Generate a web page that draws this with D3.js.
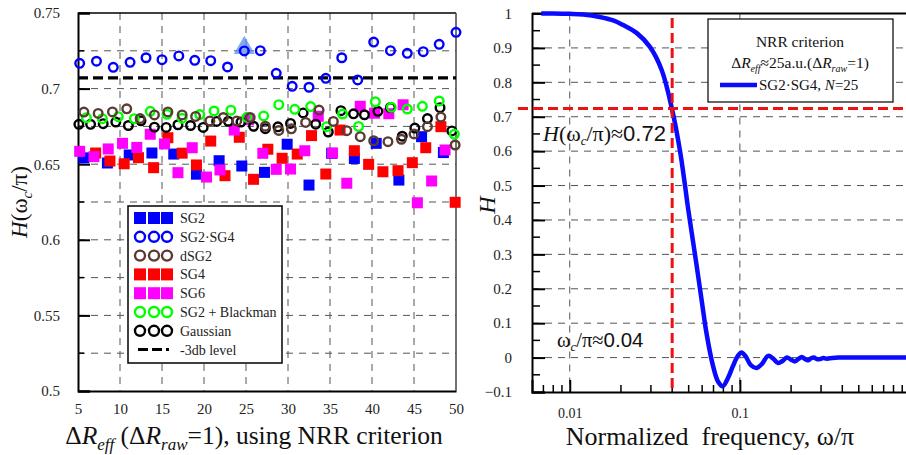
<!DOCTYPE html>
<html><head><meta charset="utf-8">
<script src="https://cdn.jsdelivr.net/npm/d3@7"></script>
<style>body{margin:0;background:#fff}svg{display:block}</style>
</head><body>
<svg id="c" width="906" height="455"></svg>
<script>
// ---------- DATA (left panel) ----------
const sg2X = [5.7, 8.5, 11.1, 13.8, 16.4, 19.1, 21.8, 24.5, 27.2, 29.9, 32.5, 35.2, 37.9, 40.5, 43.2, 45.9, 48.5];
const sg2Y = [0.6542, 0.6508, 0.6561, 0.6574, 0.6567, 0.6434, 0.6523, 0.6488, 0.6446, 0.6632, 0.6362, 0.6572, 0.6538, 0.6638, 0.6395, 0.6682, 0.6577];
const sg2sg4X = [5.2, 7.2, 9.2, 11.2, 13.1, 15.0, 17.0, 18.9, 20.8, 22.8, 24.8, 26.7, 28.6, 30.5, 32.5, 34.5, 36.4, 38.3, 40.2, 42.2, 44.2, 46.1, 48.0, 50.0];
const sg2sg4Y = [0.7167, 0.7181, 0.7141, 0.7174, 0.7204, 0.7191, 0.7216, 0.7187, 0.7185, 0.7143, 0.7249, 0.7251, 0.7101, 0.7015, 0.7009, 0.7068, 0.7204, 0.7057, 0.7308, 0.7251, 0.7233, 0.7244, 0.7293, 0.7372];
const dsg2X = [5.7, 7.4, 9.1, 10.8, 12.4, 14.1, 15.7, 17.4, 19.0, 20.7, 22.3, 23.9, 25.5, 27.3, 28.9, 30.4, 32.1, 33.7, 35.4, 37.0, 38.6, 40.2, 41.9, 43.5, 45.0, 46.6, 48.2, 49.9];
const dsg2Y = [0.6845, 0.6836, 0.6846, 0.6866, 0.6802, 0.6826, 0.6846, 0.6826, 0.6816, 0.6786, 0.6809, 0.6786, 0.6809, 0.6751, 0.6723, 0.6734, 0.6776, 0.6858, 0.6783, 0.6722, 0.6682, 0.6655, 0.6649, 0.6665, 0.6700, 0.6748, 0.6812, 0.6627];
const sg4X = [7.1, 8.8, 10.5, 12.2, 14.0, 15.7, 17.4, 19.1, 20.8, 22.5, 24.2, 25.9, 27.6, 29.3, 31.1, 32.8, 34.5, 36.2, 37.9, 39.6, 41.3, 43.1, 44.8, 46.4, 48.2, 49.9];
const sg4Y = [0.6574, 0.6521, 0.6503, 0.6543, 0.6477, 0.6675, 0.6573, 0.6495, 0.6653, 0.6424, 0.6678, 0.6400, 0.6599, 0.6539, 0.6567, 0.6689, 0.6435, 0.6726, 0.6589, 0.6499, 0.6450, 0.6457, 0.6510, 0.6609, 0.6748, 0.6248];
const sg6X = [5.2, 6.9, 8.6, 10.3, 12.0, 13.6, 15.3, 16.9, 18.6, 20.3, 21.9, 23.6, 25.3, 27.0, 28.6, 30.3, 32.0, 33.6, 35.3, 37.0, 38.6, 40.3, 42.0, 43.7, 45.4, 47.1, 48.7];
const sg6Y = [0.6585, 0.6550, 0.6601, 0.6638, 0.6611, 0.6698, 0.6634, 0.6444, 0.6609, 0.6415, 0.6462, 0.6726, 0.6794, 0.6572, 0.6466, 0.6468, 0.6589, 0.6817, 0.6574, 0.6374, 0.6883, 0.6837, 0.6834, 0.6893, 0.6245, 0.6389, 0.6594];
const blackmanX = [6.0, 7.9, 9.8, 11.7, 13.6, 15.6, 17.4, 19.5, 21.2, 23.2, 25.1, 27.1, 28.9, 30.8, 32.7, 34.6, 36.5, 38.4, 40.4, 42.3, 44.2, 46.0, 48.0, 49.8];
const blackmanY = [0.6808, 0.6801, 0.6814, 0.6801, 0.6850, 0.6830, 0.6804, 0.6828, 0.6852, 0.6857, 0.6810, 0.6819, 0.6894, 0.6863, 0.6881, 0.6748, 0.6832, 0.6750, 0.6913, 0.6876, 0.6865, 0.6883, 0.6918, 0.6698];
const gaussX = [5.1, 6.5, 8.0, 9.5, 11.0, 12.5, 14.1, 15.5, 16.9, 18.4, 19.9, 21.5, 22.9, 24.4, 25.9, 27.3, 28.8, 30.3, 31.8, 33.3, 34.8, 36.3, 37.8, 39.1, 40.7, 42.2, 43.6, 45.1, 46.6, 48.1, 49.5];
const gaussY = [0.6764, 0.6764, 0.6768, 0.6779, 0.6756, 0.6787, 0.6745, 0.6743, 0.6761, 0.6756, 0.6743, 0.6783, 0.6784, 0.6779, 0.6751, 0.6735, 0.6747, 0.6770, 0.6839, 0.6765, 0.6713, 0.6854, 0.6833, 0.6827, 0.6850, 0.6875, 0.6685, 0.6739, 0.6802, 0.6874, 0.6720];
const level3db = 0.7071;
const markedPoint = [24.8, 0.7249];
const leftXTicks = [5, 10, 15, 20, 25, 30, 35, 40, 45, 50];
const leftYTicks = [0.5, 0.55, 0.6, 0.65, 0.7, 0.75];
const leftYTickLabels = ["0.5", "0.55", "0.6", "0.65", "0.7", "0.75"];
const legendNames = ["SG2", "SG2·SG4", "dSG2", "SG4", "SG6", "SG2 + Blackman", "Gaussian", "-3db level"];

// ---------- DATA (right panel) ----------
const freq = [0.0068, 0.008, 0.01, 0.012, 0.015, 0.018, 0.0205, 0.0248, 0.0296, 0.0347, 0.0398, 0.0444, 0.0476, 0.0494, 0.0556, 0.0596, 0.0637, 0.0696, 0.0745, 0.0794, 0.085, 0.091, 0.097, 0.1023, 0.108, 0.116, 0.1255, 0.135, 0.1466, 0.157, 0.168, 0.178, 0.189, 0.2, 0.211, 0.221, 0.231, 0.241, 0.251, 0.262, 0.273, 0.285, 0.297, 0.31, 0.323, 0.336, 0.35, 0.38, 0.42, 0.5, 0.6, 0.75, 1.0];
const response = [1.0, 1.0, 0.999, 0.997, 0.99, 0.98, 0.967, 0.943, 0.903, 0.836, 0.725, 0.603, 0.5, 0.44, 0.27, 0.167, 0.07, -0.025, -0.07, -0.083, -0.06, -0.025, 0.004, 0.015, 0.004, -0.022, -0.03, -0.018, 0.005, -0.003, -0.016, -0.01, 0.0, -0.006, -0.011, -0.004, 0.002, -0.004, -0.008, -0.002, 0.0, -0.005, -0.004, -0.001, -0.003, -0.002, -0.001, 0.0, 0.0, 0.0, 0.0, 0.0, 0.0];
const cutoffFreq = 0.04;
const cutoffH = 0.724;
const rightXTicks = [0.01, 0.1];
const rightYTicks = [-0.1, 0, 0.1, 0.2, 0.3, 0.4, 0.5, 0.6, 0.7, 0.8, 0.9, 1];

const svg = d3.select("#c");
svg.append("rect").attr("width", 906).attr("height", 455).attr("fill", "#fff");
const SERIF = "'Liberation Serif','Times New Roman',serif";
const SANS = "'Liberation Sans',Arial,sans-serif";

// ================= LEFT PANEL =================
const xL = d3.scaleLinear().domain([5, 50]).range([78, 456]);
const yL = d3.scaleLinear().domain([0.5, 0.75]).range([391, 13]);
const gL = svg.append("g");
const gridDash = "7,6";
gL.selectAll(".vg").data(leftXTicks.slice(1, -1)).join("line")
  .attr("x1", d => xL(d)).attr("x2", d => xL(d)).attr("y1", yL(0.75)).attr("y2", yL(0.5))
  .attr("stroke", "#555").attr("stroke-width", 1).attr("stroke-dasharray", gridDash);
gL.selectAll(".hg").data(d3.range(1, 10).map(i => 0.5 + i * 0.025)).join("line")
  .attr("x1", xL(5)).attr("x2", xL(50)).attr("y1", d => yL(d)).attr("y2", d => yL(d))
  .attr("stroke", "#555").attr("stroke-width", 1).attr("stroke-dasharray", gridDash);

const axL = d3.axisLeft(yL).tickValues(leftYTicks).tickFormat((d, i) => leftYTickLabels[i]).tickSize(-12).tickPadding(18);
const gAxL = gL.append("g").attr("transform", `translate(${xL(5)},0)`).call(axL);
const axB = d3.axisBottom(xL).tickValues(leftXTicks).tickSize(0).tickPadding(12);
const gAxB = gL.append("g").attr("transform", `translate(0,${yL(0.5)})`).call(axB);
[gAxL, gAxB].forEach(g => {
  g.attr("font-family", SERIF);
  g.selectAll("text").attr("font-family", SERIF).attr("font-size", 15).attr("fill", "#222");
  g.select(".domain").attr("stroke", "#000").attr("stroke-width", 2);
  g.selectAll(".tick line").attr("stroke", "#000").attr("stroke-width", 2);
});
gL.selectAll(".my").data(d3.range(0, 5).map(i => 0.525 + i * 0.05)).join("line")
  .attr("x1", xL(5)).attr("x2", xL(5) + 6).attr("y1", d => yL(d)).attr("y2", d => yL(d))
  .attr("stroke", "#000").attr("stroke-width", 1.5);
gL.append("line").attr("x1", xL(5)).attr("x2", xL(50)).attr("y1", yL(0.75)).attr("y2", yL(0.75)).attr("stroke", "#000").attr("stroke-width", 1.5);
gL.append("line").attr("x1", xL(50)).attr("x2", xL(50)).attr("y1", yL(0.75)).attr("y2", yL(0.5)).attr("stroke", "#444").attr("stroke-width", 1.5);

gL.append("line").attr("x1", xL(5)).attr("x2", xL(50)).attr("y1", yL(level3db)).attr("y2", yL(level3db))
  .attr("stroke", "#000").attr("stroke-width", 3.2).attr("stroke-dasharray", "10,5");

const tri = d3.symbol().type(d3.symbolTriangle).size(190);
gL.append("path").attr("d", tri()).attr("transform", `translate(${xL(markedPoint[0])},${yL(markedPoint[1]) - 3})`)
  .attr("fill", "#5b8cf0").attr("fill-opacity", 0.75);

const SQ = 11;
function squares(xs, ys, color) {
  gL.append("g").selectAll("rect").data(xs.map((x, i) => [x, ys[i]])).join("rect")
    .attr("x", d => xL(d[0]) - SQ / 2).attr("y", d => yL(d[1]) - SQ / 2)
    .attr("width", SQ).attr("height", SQ).attr("fill", color);
}
function circles(xs, ys, color) {
  gL.append("g").selectAll("circle").data(xs.map((x, i) => [x, ys[i]])).join("circle")
    .attr("cx", d => xL(d[0])).attr("cy", d => yL(d[1])).attr("r", 4.3)
    .attr("fill", "none").attr("stroke", color).attr("stroke-width", 2.4);
}
const COL = { sg2: "#0000ff", sg2sg4: "#0000ff", dsg2: "#5b3a33", sg4: "#ff0000", sg6: "#ff00ff", bl: "#00ff00", ga: "#000000" };
squares(sg2X, sg2Y, COL.sg2);
squares(sg4X, sg4Y, COL.sg4);
squares(sg6X, sg6Y, COL.sg6);
circles(sg2sg4X, sg2sg4Y, COL.sg2sg4);
circles(gaussX, gaussY, COL.ga);
circles(blackmanX, blackmanY, COL.bl);
circles(dsg2X, dsg2Y, COL.dsg2);

// legend
const lg = gL.append("g");
lg.append("rect").attr("x", 128).attr("y", 206).attr("width", 154).attr("height", 157)
  .attr("fill", "#fff").attr("stroke", "#000").attr("stroke-width", 1.5);
const legendKinds = [["sq", COL.sg2], ["ci", COL.sg2sg4], ["ci", COL.dsg2], ["sq", COL.sg4], ["sq", COL.sg6], ["ci", COL.bl], ["ci", COL.ga], ["dash", "#000"]];
legendNames.forEach((name, i) => {
  const y = 218 + i * 18.8;
  const k = legendKinds[i];
  const xs = [140, 154, 167];
  if (k[0] === "sq") xs.forEach(x => lg.append("rect").attr("x", x - 6).attr("y", y - 6).attr("width", 12).attr("height", 12).attr("fill", k[1]));
  else if (k[0] === "ci") xs.forEach(x => lg.append("circle").attr("cx", x).attr("cy", y).attr("r", 5).attr("fill", "none").attr("stroke", k[1]).attr("stroke-width", 2.4));
  else lg.append("line").attr("x1", 138).attr("x2", 169).attr("y1", y).attr("y2", y).attr("stroke", "#000").attr("stroke-width", 3).attr("stroke-dasharray", "10,4");
  lg.append("text").attr("x", 180).attr("y", y + 5).attr("font-family", SERIF).attr("font-size", 14).attr("fill", "#222").text(name);
});

// left titles
const yt = svg.append("text").attr("transform", "translate(27,202) rotate(-90)").attr("text-anchor", "middle")
  .attr("font-family", SERIF).attr("font-size", 23).attr("fill", "#111");
yt.append("tspan").attr("font-style", "italic").text("H");
yt.append("tspan").text("(ω");
yt.append("tspan").attr("font-style", "italic").attr("font-size", 15).attr("dy", 5).text("c");
yt.append("tspan").attr("dy", -5).text("/π)");

const xt = svg.append("text").attr("x", 254).attr("y", 444).attr("text-anchor", "middle")
  .attr("font-family", SERIF).attr("font-size", 25.5).attr("fill", "#111");
xt.append("tspan").text("Δ");
xt.append("tspan").attr("font-style", "italic").text("R");
xt.append("tspan").attr("font-style", "italic").attr("font-size", 17).attr("dy", 6).text("eff");
xt.append("tspan").attr("dy", -6).text(" (Δ");
xt.append("tspan").attr("font-style", "italic").text("R");
xt.append("tspan").attr("font-style", "italic").attr("font-size", 17).attr("dy", 6).text("raw");
xt.append("tspan").attr("dy", -6).text("=1), using NRR criterion");

// ================= RIGHT PANEL =================
const xR = d3.scaleLog().domain([0.006, 1]).range([532, 910]);
const yR = d3.scaleLinear().domain([-0.1, 1]).range([392, 13.5]);
const gR = svg.append("g");
gR.selectAll(".hg").data(rightYTicks.filter(d => d > -0.05 && d < 0.95)).join("line")
  .attr("x1", xR(0.006)).attr("x2", 906).attr("y1", d => yR(d)).attr("y2", d => yR(d))
  .attr("stroke", "#555").attr("stroke-width", 1).attr("stroke-dasharray", gridDash);
gR.selectAll(".vg").data(rightXTicks).join("line")
  .attr("x1", d => xR(d)).attr("x2", d => xR(d)).attr("y1", yR(1)).attr("y2", yR(-0.1))
  .attr("stroke", "#555").attr("stroke-width", 1).attr("stroke-dasharray", gridDash);

const axRL = d3.axisLeft(yR).tickValues(rightYTicks).tickFormat(d3.format("")).tickSize(-13).tickPadding(20);
const gAxRL = gR.append("g").attr("transform", `translate(${xR(0.006)},0)`).call(axRL);
const axRB = d3.axisBottom(xR).tickValues(rightXTicks).tickFormat(d3.format("")).tickSize(-12).tickPadding(16);
const gAxRB = gR.append("g").attr("transform", `translate(0,${yR(-0.1)})`).call(axRB);
gAxRL.attr("font-family", SERIF);
gAxRB.attr("font-family", SERIF);
gAxRL.selectAll("text").attr("font-family", SERIF).attr("font-size", 15).attr("fill", "#222");
gAxRB.selectAll("text").attr("font-family", SERIF).attr("font-size", 14).attr("fill", "#222");
[gAxRL, gAxRB].forEach(g => {
  g.select(".domain").attr("stroke", "#000").attr("stroke-width", 2);
  g.selectAll(".tick line").attr("stroke", "#000").attr("stroke-width", 2);
});
gR.selectAll(".myr").data(d3.range(0, 11).map(i => -0.05 + i * 0.1)).join("line")
  .attr("x1", xR(0.006)).attr("x2", xR(0.006) + 8).attr("y1", d => yR(d)).attr("y2", d => yR(d))
  .attr("stroke", "#000").attr("stroke-width", 1.5);
const minorF = [0.007, 0.008, 0.009, 0.02, 0.03, 0.04, 0.05, 0.06, 0.07, 0.08, 0.09, 0.2, 0.3, 0.4, 0.5, 0.6, 0.7, 0.8, 0.9];
gR.selectAll(".mxr").data(minorF).join("line")
  .attr("x1", d => xR(d)).attr("x2", d => xR(d)).attr("y1", yR(-0.1)).attr("y2", yR(-0.1) - 7)
  .attr("stroke", "#000").attr("stroke-width", 1.5);
gR.append("line").attr("x1", xR(0.006)).attr("x2", 906).attr("y1", yR(1)).attr("y2", yR(1)).attr("stroke", "#000").attr("stroke-width", 2);

const line = d3.line().x((d, i) => xR(freq[i])).y(d => yR(d)).curve(d3.curveCatmullRom);
gR.append("path").datum(response).attr("d", line).attr("fill", "none")
  .attr("stroke", "#0a0aff").attr("stroke-width", 4.5).attr("stroke-linejoin", "round");

gR.append("line").attr("x1", xR(cutoffFreq)).attr("x2", xR(cutoffFreq)).attr("y1", 18).attr("y2", yR(-0.1))
  .attr("stroke", "#ee1111").attr("stroke-width", 3).attr("stroke-dasharray", "10,5");
gR.append("line").attr("x1", 518).attr("x2", 906).attr("y1", yR(cutoffH)).attr("y2", yR(cutoffH))
  .attr("stroke", "#ee1111").attr("stroke-width", 3).attr("stroke-dasharray", "10,5");

const a1 = gR.append("text").attr("x", 543).attr("y", 141).attr("font-family", SERIF).attr("font-size", 22).attr("fill", "#111");
a1.append("tspan").attr("font-style", "italic").text("H");
a1.append("tspan").text("(ω");
a1.append("tspan").attr("font-style", "italic").attr("font-size", 13).attr("dy", 4).text("c");
a1.append("tspan").attr("dy", -4).text("/π)≈");
a1.append("tspan").attr("font-family", SANS).text("0.72");
const a2 = gR.append("text").attr("x", 557).attr("y", 347).attr("font-family", SERIF).attr("font-size", 20.5).attr("fill", "#111");
a2.append("tspan").text("ω");
a2.append("tspan").attr("font-style", "italic").attr("font-size", 13).attr("dy", 4).text("c");
a2.append("tspan").attr("dy", -4).text("/π≈");
a2.append("tspan").attr("font-family", SANS).text("0.04");

const rl = gR.append("g");
rl.append("rect").attr("x", 708).attr("y", 19).attr("width", 185).attr("height", 83)
  .attr("fill", "#fff").attr("stroke", "#000").attr("stroke-width", 1.2);
rl.append("text").attr("x", 800).attr("y", 47).attr("text-anchor", "middle").attr("font-family", SERIF).attr("font-size", 15.5).attr("fill", "#111").text("NRR criterion");
const l2 = rl.append("text").attr("x", 800).attr("y", 68).attr("text-anchor", "middle").attr("font-family", SERIF).attr("font-size", 15.5).attr("fill", "#111");
l2.append("tspan").text("Δ");
l2.append("tspan").attr("font-style", "italic").text("R");
l2.append("tspan").attr("font-style", "italic").attr("font-size", 10).attr("dy", 4).text("eff");
l2.append("tspan").attr("dy", -4).text("≈25a.u.(Δ");
l2.append("tspan").attr("font-style", "italic").text("R");
l2.append("tspan").attr("font-style", "italic").attr("font-size", 10).attr("dy", 4).text("raw");
l2.append("tspan").attr("dy", -4).text("=1)");
rl.append("line").attr("x1", 720).attr("x2", 757).attr("y1", 85).attr("y2", 85).attr("stroke", "#0a0aff").attr("stroke-width", 4.5);
const l3 = rl.append("text").attr("x", 759).attr("y", 90).attr("font-family", SERIF).attr("font-size", 15).attr("fill", "#111");
l3.append("tspan").text("SG2·SG4, ");
l3.append("tspan").attr("font-style", "italic").text("N");
l3.append("tspan").text("=25");

svg.append("text").attr("transform", "translate(495,205) rotate(-90)").attr("text-anchor", "middle")
  .attr("font-family", SERIF).attr("font-style", "italic").attr("font-size", 24).attr("fill", "#111").text("H");
svg.append("text").attr("x", 710).attr("y", 445).attr("text-anchor", "middle")
  .attr("font-family", SERIF).attr("font-size", 26).attr("fill", "#111").attr("xml:space", "preserve").text("Normalized  frequency, ω/π");
</script>
</body></html>
